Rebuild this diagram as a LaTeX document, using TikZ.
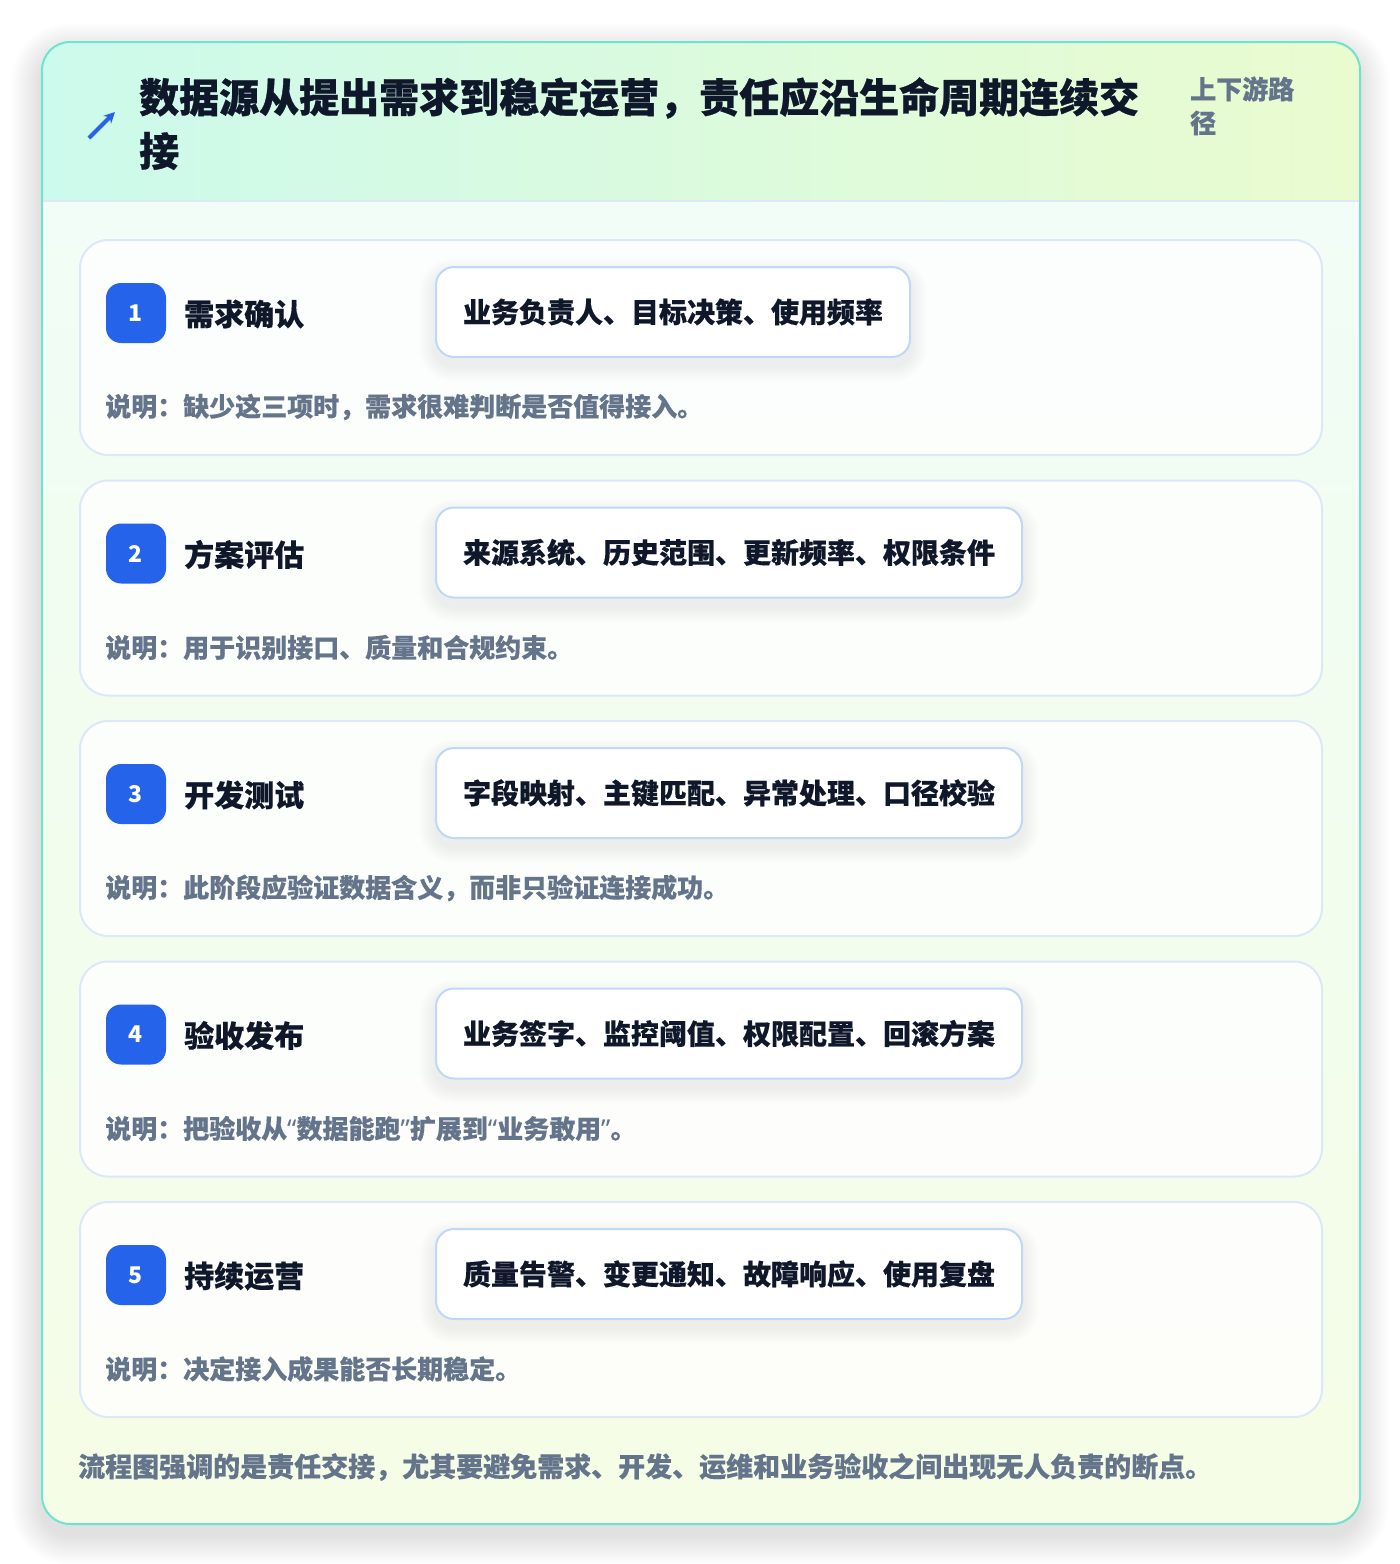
\documentclass[tikz,border=0pt]{standalone}
\usepackage{fontspec}
\setmainfont{Noto Sans CJK SC}
\newfontfamily\qf{Noto Sans}
\usetikzlibrary{arrows.meta}
\definecolor{outerborder}{HTML}{6EE3CF}
\definecolor{headL}{HTML}{CCFAEC}
\definecolor{headR}{HTML}{EAFBCF}
\definecolor{bodytop}{HTML}{F0FDF8}
\definecolor{bodybot}{HTML}{F5FDE6}
\definecolor{headline}{HTML}{DCEAF8}
\definecolor{cardborder}{HTML}{DCE8FA}
\definecolor{pillborder}{HTML}{BFD8F8}
\definecolor{badgeblue}{HTML}{2563EB}
\definecolor{ink}{HTML}{0F172A}
\definecolor{slate}{HTML}{64748B}
\pgfdeclarelayer{pshadow}
\pgfdeclarelayer{front}
\pgfsetlayers{main,pshadow,front}
\tikzset{
  cardbox/.style={draw=cardborder, line width=2pt, fill=white, fill opacity=0.82,
    rounded corners=28pt, minimum width=1242pt, minimum height=215pt, anchor=north west, inner sep=0pt},
  badgebox/.style={fill=badgeblue, rounded corners=15pt, minimum width=60pt, minimum height=60pt,
    text=white, font=\fontsize{23}{26}\selectfont\bfseries, inner sep=0pt},
  stagetitle/.style={anchor=west, inner sep=0pt, text=ink, font=\fontsize{30}{36}\selectfont\bfseries\addfontfeatures{FakeBold=0.4}},
  pillbox/.style={anchor=west, draw=pillborder, line width=2pt, fill=white, rounded corners=18pt,
    inner xsep=27pt, inner ysep=0pt, minimum height=90pt, text=ink,
    font=\fontsize{28}{34}\selectfont\bfseries\addfontfeatures{FakeBold=0.4}},
  notetext/.style={anchor=west, inner sep=0pt, text=slate, font=\fontsize{26}{32}\selectfont\bfseries\addfontfeatures{FakeBold=0.3}},
  softshade/.style={fill=black, opacity=#1},
}
\begin{document}
\begin{tikzpicture}[x=1pt,y=-1pt]
\useasboundingbox (0,0) rectangle (1400,1564);
\fill[white] (0,0) rectangle (1400,1564);
% outer card soft shadow
\foreach \k in {1,...,30}{
  \pgfmathsetmacro\rr{28+\k}
  \fill[softshade=0.0040, rounded corners=\rr pt] ({41-\k},{41-\k+12}) rectangle ({1359+\k},{1523+\k+12});
}
\fill[white, rounded corners=28pt] (41,41) rectangle (1359,1523);
\begin{scope}
  \clip[rounded corners=28pt] (41,41) rectangle (1359,1523);
  \shade[top color=bodytop, bottom color=bodybot] (41,41) rectangle (1359,1523);
  \shade[left color=headL, right color=headR] (41,41) rectangle (1359,201);
  \draw[line width=2pt, headline] (41,201) -- (1359,201);
\end{scope}
\node[draw=outerborder, line width=2pt, rounded corners=28pt, minimum width=1318pt, minimum height=1482pt,
  anchor=north west, inner sep=0pt] (outer) at (41,41) {};
% header
\coordinate (arrS) at (89,138);
\coordinate (arrE) at (115,112);
\draw[-{Stealth[length=11pt,width=11pt]}, line width=4pt, badgeblue] (arrS) -- (arrE);
\node[anchor=west, inner sep=0pt, text=ink, font=\fontsize{40}{48}\selectfont\bfseries\addfontfeatures{FakeBold=0.8}] (t1) at (139,98)
  {数据源从提出需求到稳定运营，责任应沿生命周期连续交};
\node[anchor=west, inner sep=0pt, text=ink, font=\fontsize{40}{48}\selectfont\bfseries\addfontfeatures{FakeBold=0.8}] (t2) at (139,151) {接};
\node[anchor=west, inner sep=0pt, text=slate, font=\fontsize{26}{32}\selectfont\bfseries\addfontfeatures{FakeBold=0.3}] (s1) at (1190,89) {上下游路};
\node[anchor=west, inner sep=0pt, text=slate, font=\fontsize{26}{32}\selectfont\bfseries\addfontfeatures{FakeBold=0.3}] (s2) at (1190,123) {径};
% stage cards
\foreach \i/\ttl/\pill/\note in {
  1/需求确认/业务负责人、目标决策、使用频率/说明：缺少这三项时，需求很难判断是否值得接入。,
  2/方案评估/来源系统、历史范围、更新频率、权限条件/说明：用于识别接口、质量和合规约束。,
  3/开发测试/字段映射、主键匹配、异常处理、口径校验/说明：此阶段应验证数据含义，而非只验证连接成功。,
  4/验收发布/业务签字、监控阈值、权限配置、回滚方案/说明：把验收从{\qf “}数据能跑{\qf ”}扩展到{\qf “}业务敢用{\qf ”}。,
  5/持续运营/质量告警、变更通知、故障响应、使用复盘/说明：决定接入成果能否长期稳定。}{
  \pgfmathsetmacro\top{239+240.5*(\i-1)}
  \node[cardbox] (card\i) at (79,\top) {};
  \node[badgebox] (badge\i) at (136,{\top+74}) {\i};
  \node[stagetitle] (title\i) at (184,{\top+75}) {\ttl};
  \begin{pgfonlayer}{front}
    \node[pillbox] (pill\i) at (435,{\top+73}) {\pill};
  \end{pgfonlayer}
  \begin{pgfonlayer}{pshadow}
    \foreach \k in {1,...,16}{
      \pgfmathsetmacro\rr{18+\k}
      \pgfmathsetmacro\ya{\k-8}
      \pgfmathsetmacro\yb{-\k-8}
      \fill[softshade=0.0045, rounded corners=\rr pt]
        ([xshift=-\k pt, yshift=\ya pt]pill\i.north west) rectangle ([xshift=\k pt, yshift=\yb pt]pill\i.south east);
    }
  \end{pgfonlayer}
  \node[notetext] (note\i) at (105,{\top+168}) {\note};
}
% footer
\node[anchor=west, inner sep=0pt, text=slate, font=\fontsize{27}{33}\selectfont\bfseries\addfontfeatures{FakeBold=0.3}] (foot) at (78,1467)
  {流程图强调的是责任交接，尤其要避免需求、开发、运维和业务验收之间出现无人负责的断点。};
\end{tikzpicture}
\end{document}
